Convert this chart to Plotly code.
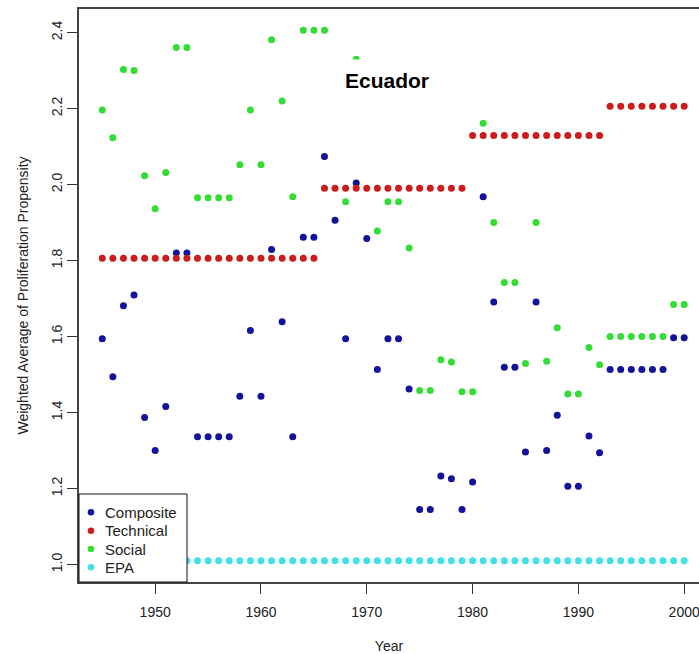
import plotly.graph_objects as go

# Ecuador: weighted average of proliferation propensity by year
years = list(range(1945, 2001))

composite = [
    1.594, 1.494, 1.681, 1.709, 1.387, 1.300, 1.416, 1.820, 1.820, 1.336,  # 1945-1954
    1.336, 1.336, 1.336, 1.443, 1.616, 1.443, 1.829, 1.639, 1.336, 1.861,  # 1955-1964
    1.861, 2.074, 1.906, 1.594, 2.004, 1.858, 1.513, 1.594, 1.594, 1.462,  # 1965-1974
    1.145, 1.145, 1.233, 1.226, 1.145, 1.217, 1.968, 1.691, 1.519, 1.519,  # 1975-1984
    1.296, 1.691, 1.300, 1.393, 1.206, 1.206, 1.338, 1.294, 1.513, 1.513,  # 1985-1994
    1.513, 1.513, 1.513, 1.513, 1.597, 1.597,                              # 1995-2000
]

technical = [1.806] * 21 + [1.990] * 14 + [2.129] * 13 + [2.206] * 8

social = [
    2.196, 2.123, 2.303, 2.300, 2.023, 1.936, 2.032, 2.361, 2.361, 1.965,  # 1945-1954
    1.965, 1.965, 1.965, 2.052, 2.196, 2.052, 2.381, 2.220, 1.968, 2.406,  # 1955-1964
    2.406, 2.406, None, 1.955, 2.330, None, 1.878, 1.955, 1.955, 1.833,    # 1965-1974
    1.458, 1.458, 1.539, 1.533, 1.455, 1.455, 2.161, 1.900, 1.742, 1.742,  # 1975-1984
    1.529, 1.900, 1.535, 1.623, 1.449, 1.449, 1.571, 1.526, 1.600, 1.600,  # 1985-1994
    1.600, 1.600, 1.600, 1.600, 1.684, 1.684,                              # 1995-2000
]

epa = [1.01] * len(years)

series_names = ["Composite", "Technical", "Social", "EPA"]
series_values = [composite, technical, social, epa]
series_colors = ["#12129c", "#cc1c1c", "#33dd33", "#3fe0e6"]

x_ticks = [1950, 1960, 1970, 1980, 1990, 2000]
y_ticks = [1.0, 1.2, 1.4, 1.6, 1.8, 2.0, 2.2, 2.4]

FONT = "Liberation Sans, Arial, sans-serif"
INK = "#222222"

# plot-area geometry in pixels (used for the boxed legend drawn in paper coords)
W, H = 699, 654
ML, MT, MB = 79, 9, 72
PW, PH = W - ML, H - MT - MB


def px_x(px):
    return (px - ML) / PW


def px_y(py):
    return (H - MB - py) / PH


fig = go.Figure()
for name, values, color in zip(series_names, series_values, series_colors):
    fig.add_trace(go.Scatter(
        x=years, y=values, name=name, mode="markers",
        marker=dict(color=color, size=7, line=dict(width=0)),
        showlegend=False,
    ))

# boxed legend in the lower-left corner, drawn over the points
shapes = [dict(
    type="rect", xref="paper", yref="paper",
    x0=0, x1=px_x(187), y0=0, y1=px_y(494),
    fillcolor="white", line=dict(color="#111111", width=1), layer="above",
)]
annotations = []
entry_rows = [512.3, 530.7, 549.0, 567.3]
for name, color, row in zip(series_names, series_colors, entry_rows):
    shapes.append(dict(
        type="circle", xref="paper", yref="paper",
        xsizemode="pixel", ysizemode="pixel",
        xanchor=px_x(91), yanchor=px_y(row),
        x0=-3.3, x1=3.3, y0=-3.3, y1=3.3,
        fillcolor=color, line=dict(width=0), layer="above",
    ))
    annotations.append(dict(
        text=name, xref="paper", yref="paper",
        x=px_x(103), y=px_y(row), xanchor="left", yanchor="middle",
        showarrow=False, font=dict(family=FONT, size=15, color=INK),
    ))

annotations.append(dict(
    text="<b>Ecuador</b>", xref="paper", yref="paper",
    x=0.497, y=0.875, xanchor="center", yanchor="middle",
    showarrow=False, bgcolor="white", borderpad=9,
    font=dict(family=FONT, size=21, color="black"),
))

fig.update_layout(
    width=W, height=H,
    margin=dict(l=ML, r=0, t=MT, b=MB, autoexpand=False),
    paper_bgcolor="white", plot_bgcolor="white",
    font=dict(family=FONT, size=14, color=INK),
    showlegend=False,
    xaxis=dict(
        range=[1942.8, 2001.4], tickvals=x_ticks, ticks="outside",
        ticklen=10, tickwidth=1, tickcolor="#333333",
        showline=True, linecolor="#444444", linewidth=1.5, mirror=True,
        showgrid=False, zeroline=False, ticklabelstandoff=6,
        ticklabeloverflow="allow",
        title=dict(text="Year", standoff=25, font=dict(size=14)),
    ),
    yaxis=dict(
        range=[0.954, 2.462], tickvals=y_ticks, tickformat=".1f",
        tickangle=-90, ticks="outside", ticklen=10, tickwidth=1,
        tickcolor="#333333", showline=True, linecolor="#444444",
        linewidth=1.5, showgrid=False, zeroline=False,
        title=dict(text="Weighted Average of Proliferation Propensity",
                   standoff=17, font=dict(size=14)),
    ),
    shapes=shapes,
    annotations=annotations,
)

fig.write_html("out.html")
